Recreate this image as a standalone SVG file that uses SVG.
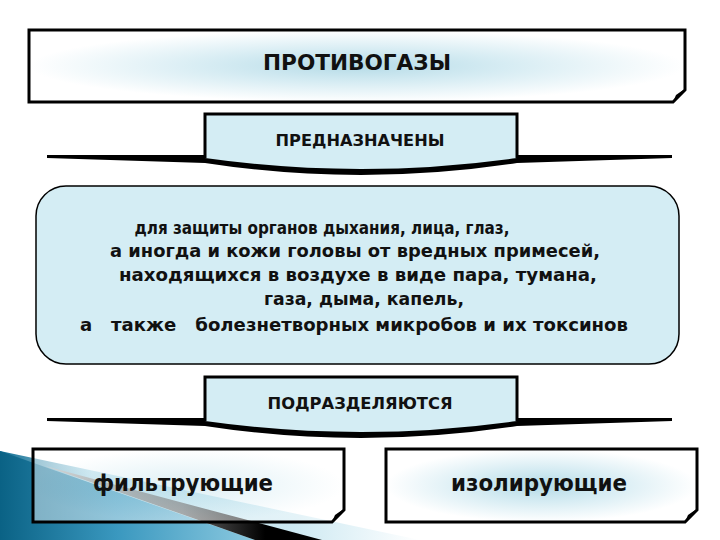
<svg xmlns="http://www.w3.org/2000/svg" width="720" height="540" viewBox="0 0 720 540">
<defs>
<radialGradient id="glow" cx="0.5" cy="0.5" r="0.5">
<stop offset="0" stop-color="#b5dbe7"/>
<stop offset="0.45" stop-color="#d6ecf3"/>
<stop offset="1" stop-color="#ffffff"/>
</radialGradient>
<linearGradient id="decoBase" x1="0" y1="0" x2="420" y2="0" gradientUnits="userSpaceOnUse">
<stop offset="0" stop-color="#136f94"/>
<stop offset="0.22" stop-color="#b9dfec"/>
<stop offset="0.7" stop-color="#cde9f2"/>
<stop offset="1" stop-color="#ffffff"/>
</linearGradient>
<linearGradient id="decoLow" x1="0" y1="0" x2="260" y2="0" gradientUnits="userSpaceOnUse">
<stop offset="0" stop-color="#0a6285"/>
<stop offset="0.45" stop-color="#3a98bf"/>
<stop offset="1" stop-color="#8fcbe1"/>
</linearGradient>
<linearGradient id="stripe" x1="45" y1="0" x2="320" y2="0" gradientUnits="userSpaceOnUse">
<stop offset="0" stop-color="#b0b0b0"/>
<stop offset="0.5" stop-color="#6a6a6a"/>
<stop offset="0.8" stop-color="#000000"/>
<stop offset="1" stop-color="#000000"/>
</linearGradient>
<style>
.frame{stroke:#000;stroke-width:3;stroke-linejoin:miter}
.curl{fill:#000}
.tab{fill:#d4edf4;stroke:none}
.tabEdge{fill:none;stroke:#000;stroke-width:3}
.band{fill:#000}
.t{font-family:"DejaVu Sans","Liberation Sans",Arial,sans-serif;font-weight:bold;fill:#111;text-anchor:middle}
</style>
</defs>

<g id="decoration">
<polygon points="0,451 420,540 0,540" fill="url(#decoBase)"/>
<polygon points="0,451 45,467 255,540 0,540" fill="url(#decoLow)"/>
<polygon points="45,466 322,540 255,540" fill="url(#stripe)"/>
</g>

<g id="title">
<path class="frame" fill="url(#glow)" d="M29,30 L685,30 L685,90 L673,102 L29,102 Z"/>
<path class="curl" d="M685,89 L673,102 L676,95 Q680,92 685,89 Z"/>
<text class="t" x="357" y="70" font-size="21" textLength="188" lengthAdjust="spacingAndGlyphs">ПРОТИВОГАЗЫ</text>
</g>

<g id="connectors">
<path class="band" d="M47,155 L205,155 L205,157 Q361,179 517,157 L517,155 L672,155 L672,158 L517,163 Q361,187 205,163 L47,158 Z"/>
<path class="band" d="M47,418 L205,418 L205,420 Q361,442 517,420 L517,418 L672,418 L672,421 L517,426 Q361,450 205,426 L47,421 Z"/>
</g>

<g id="tab-purpose">
<path class="tab" d="M205,113 L517,113 L517,158 Q361,180 205,158 Z"/>
<path class="tabEdge" d="M205,158 L205,114 L517,114 L517,158"/>
<text class="t" x="360" y="146" font-size="15" textLength="169" lengthAdjust="spacingAndGlyphs">ПРЕДНАЗНАЧЕНЫ</text>
</g>

<g id="description">
<rect x="36" y="186" width="643" height="178" rx="30" ry="30" fill="#d4edf4" stroke="#000" stroke-width="1.5"/>
<text class="t" x="322" y="234" font-size="17" textLength="375" lengthAdjust="spacingAndGlyphs">для защиты органов дыхания, лица, глаз,</text>
<text class="t" x="355" y="257" font-size="17" textLength="490" lengthAdjust="spacingAndGlyphs">а иногда и кожи головы от вредных примесей,</text>
<text class="t" x="358" y="281" font-size="17" textLength="478" lengthAdjust="spacingAndGlyphs">находящихся в воздухе в виде пара, тумана,</text>
<text class="t" x="364" y="305" font-size="17" textLength="200" lengthAdjust="spacingAndGlyphs">газа, дыма, капель,</text>
<text class="t" x="354" y="331" font-size="17" textLength="548" lengthAdjust="spacingAndGlyphs" xml:space="preserve">а   также   болезнетворных микробов и их токсинов</text>
</g>

<g id="tab-divide">
<path class="tab" d="M205,376 L517,376 L517,421 Q361,443 205,421 Z"/>
<path class="tabEdge" d="M205,421 L205,377 L517,377 L517,421"/>
<text class="t" x="360" y="409" font-size="15" textLength="185" lengthAdjust="spacingAndGlyphs">ПОДРАЗДЕЛЯЮТСЯ</text>
</g>

<g id="filtering">
<path class="frame" fill="url(#glow)" fill-opacity="0.45" d="M33,449 L344,449 L344,510 L332,522 L33,522 Z"/>
<path class="curl" d="M344,509 L332,522 L335,515 Q339,512 344,509 Z"/>
<text class="t" x="183" y="491" font-size="23" textLength="180" lengthAdjust="spacingAndGlyphs">фильтрующие</text>
</g>

<g id="isolating">
<path class="frame" fill="url(#glow)" d="M386,449 L697,449 L697,510 L685,522 L386,522 Z"/>
<path class="curl" d="M697,509 L685,522 L688,515 Q692,512 697,509 Z"/>
<text class="t" x="539" y="491" font-size="23" textLength="176" lengthAdjust="spacingAndGlyphs">изолирующие</text>
</g>
</svg>
